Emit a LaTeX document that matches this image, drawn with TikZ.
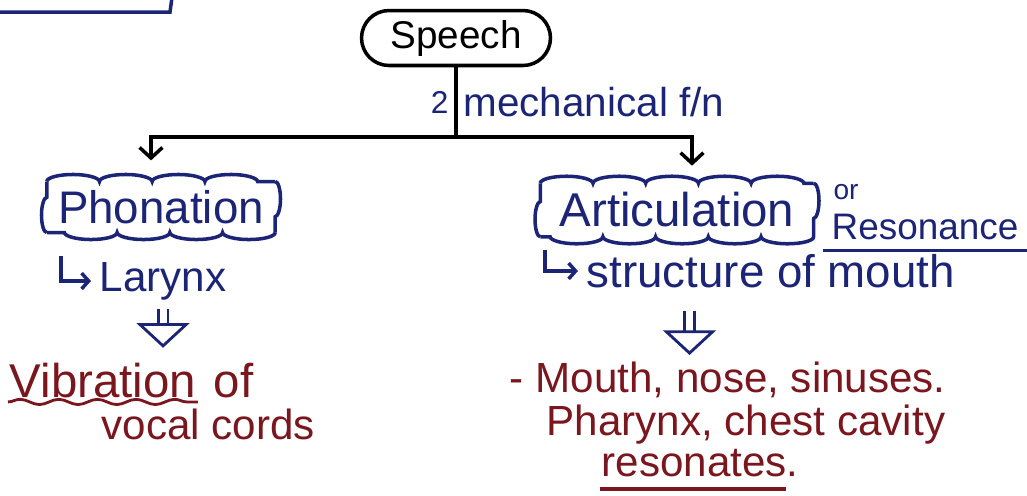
\documentclass[tikz,border=0pt]{standalone}
\usepackage{fontspec}
\setmainfont{Liberation Sans}
\usetikzlibrary{arrows.meta,shapes.misc,decorations.pathmorphing,positioning}
\definecolor{inkblue}{RGB}{28,36,118}
\definecolor{inkred}{RGB}{122,22,30}

\begin{document}
\begin{tikzpicture}[x=0.02cm, y=-0.02cm, line width=2pt,
    main node/.style={draw, rounded rectangle, minimum width=3.78cm, minimum height=1.1cm, inner sep=0pt, font=\fontsize{22}{26}\selectfont},
    cloud node/.style={rectangle, inner sep=0pt, text=inkblue, font=\fontsize{26}{30}\selectfont},
    puffs/.style={draw=inkblue, decorate, decoration={bumps, segment length=60pt, amplitude=4pt}},
    side puffs/.style={puffs, decoration={segment length=40pt, amplitude=3pt}},
    blue text/.style={text=inkblue, inner sep=0pt, font=\fontsize{24}{28}\selectfont},
    red text/.style={text=inkred, inner sep=0pt, font=\fontsize{24}{28}\selectfont},
    branch/.style={-{Straight Barb[length=6pt,width=13pt]}},
    hook/.style={draw=inkblue, -{Straight Barb[length=4pt,width=9pt]}},
    leads/.style={draw=inkblue, double=white, double distance=4pt, line width=1.6pt, -{Triangle[open,length=14pt,width=30pt]}}]

  \useasboundingbox (0,0) rectangle (1027,495);

  % corner of the heading box, cut off
  \draw[inkblue] (-20,12) -- (170,12) -- (173,-10);

  % root
  \node[main node] (speech) at (456,38) {Speech};
  \coordinate (split) at (456,137);

  % the two functions
  \node[cloud node, minimum width=4.5cm, minimum height=0.95cm] (phon) at (161,207) {Phonation};
  \node[cloud node, minimum width=5.4cm, minimum height=1.0cm, font=\fontsize{27}{30}\selectfont] (artic) at (677,210) {Articulation};
  \foreach \c in {phon, artic} {
    \draw[puffs] (\c.north west) -- (\c.north east);
    \draw[puffs] (\c.south east) -- (\c.south west);
    \draw[side puffs] (\c.north east) -- (\c.south east);
    \draw[side puffs] (\c.south west) -- (\c.north west);
  }
  \node[blue text, font=\fontsize{16}{18}\selectfont] (or) at (846,192) {or};
  \node[blue text, font=\fontsize{21}{24}\selectfont] (reson) at (925,227) {Resonance};

  \draw (speech.south) -- node[left, inkblue, font=\fontsize{18}{20}\selectfont] {2}
        node[right, inkblue, font=\fontsize{23}{26}\selectfont] {mechanical f/n} (split);
  \draw[branch, shorten >=12pt] (split) -| ([xshift=-0.2cm]phon.north);
  \draw[branch, shorten >=10pt] (split) -| ([xshift=0.3cm]artic.north);
  \draw[inkblue] ([xshift=-4pt, yshift=-5pt]reson.south west) -- ([xshift=10pt, yshift=-5pt]reson.south east);

  % organs
  \node[blue text, anchor=west] (larynx) at (98,281) {Larynx};
  \node[blue text, anchor=west, font=\fontsize{26}{30}\selectfont] (mouth) at (585,271) {structure of mouth};
  \coordinate (lhook) at (61,256);
  \coordinate (rhook) at (545,250);
  \draw[hook] (lhook) |- ([xshift=-4pt]larynx.west);
  \draw[hook] (rhook) |- ([xshift=-4pt]mouth.west);

  % results
  \node[red text, anchor=west, font=\fontsize{27}{30}\selectfont] (vib) at (8,381) {Vibration};
  \node[red text, base right=8pt of vib, font=\fontsize{27}{30}\selectfont] (vibof) {of};
  \node[red text, anchor=west] (cords) at (100,424) {vocal cords};
  \draw[inkred, line width=1.6pt, decorate, decoration={snake, amplitude=1.5pt, segment length=22pt}]
        ([yshift=-1pt]vib.south west) -- ([yshift=-1pt]vib.south east);

  \node[red text, anchor=west] (sinus) at (508,380) {- Mouth, nose, sinuses.};
  \node[red text, anchor=west] (pharynx) at (545,425) {Pharynx, chest cavity};
  \node[red text] (res) at (700,463) {resonates.};
  \draw[inkred] ([yshift=-6pt]res.south west) -- ([xshift=-8pt, yshift=-6pt]res.south east);

  \draw[leads, shorten <=4pt, shorten >=8pt] (larynx.south) -- (larynx.south |- vib.north);
  \draw[leads, shorten <=12pt, shorten >=3pt] ([xshift=0.25cm]artic.south |- mouth.south) -- ([xshift=0.25cm]artic.south |- sinus.north);
\end{tikzpicture}
\end{document}
